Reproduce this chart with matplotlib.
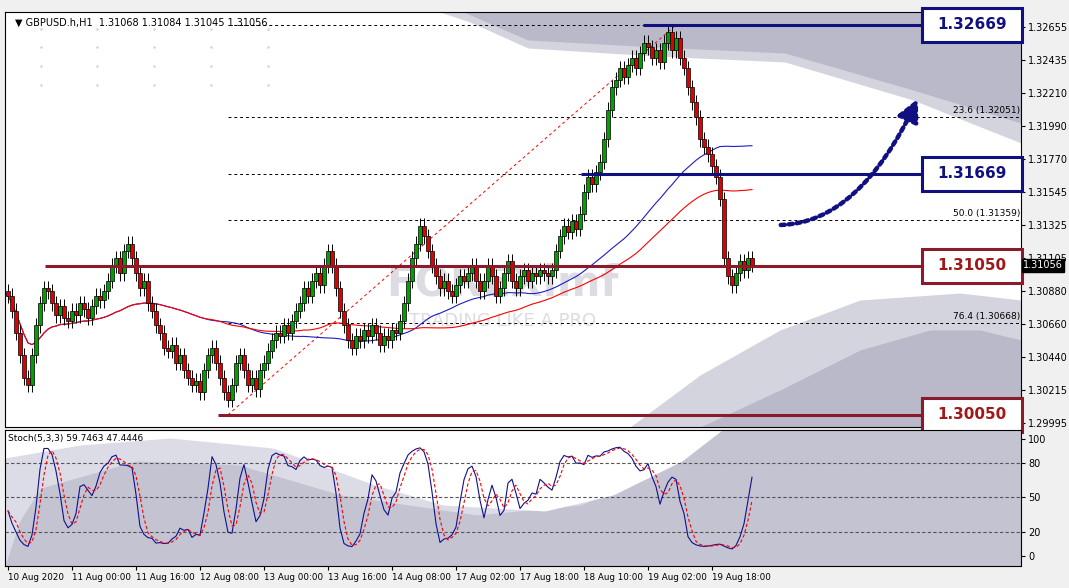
import numpy as np
import pandas as pd
import matplotlib
matplotlib.use("Agg")
import matplotlib.pyplot as plt
from matplotlib.patches import Rectangle

# hourly closes, GBPUSD H1
closes = [
    1.3085, 1.3075, 1.3060, 1.3045, 1.3030, 1.3025, 1.3045, 1.3065, 1.3080, 1.3090,
    1.3088, 1.3080, 1.3072, 1.3078, 1.3070, 1.3068, 1.3075, 1.3072, 1.3080, 1.3076, 1.3070, 1.3078, 1.3085, 1.3082,
    1.3088, 1.3095, 1.3105, 1.3110, 1.3100, 1.3115, 1.3120,
    1.3110, 1.3100, 1.3090, 1.3095, 1.3080, 1.3075, 1.3065, 1.3060, 1.3050, 1.3048,
    1.3052, 1.3040, 1.3045, 1.3035, 1.3030, 1.3025, 1.3028, 1.3020,
    1.3035, 1.3045, 1.3050, 1.3040, 1.3030, 1.3020, 1.3015, 1.3025,
    1.3040, 1.3045, 1.3035, 1.3025, 1.3030, 1.3022, 1.3035, 1.3040, 1.3048, 1.3055,
    1.3060, 1.3058, 1.3065, 1.3060, 1.3068, 1.3075, 1.3080, 1.3090, 1.3085, 1.3095, 1.3100, 1.3092, 1.3105, 1.3115, 1.3105,
    1.3090, 1.3075, 1.3065, 1.3055, 1.3050, 1.3058, 1.3055,
    1.3062, 1.3058, 1.3065, 1.3060, 1.3052, 1.3058, 1.3055, 1.3062, 1.3060, 1.3068, 1.3080,
    1.3095, 1.3110, 1.3120, 1.3132, 1.3125,
    1.3115, 1.3105, 1.3098, 1.3090, 1.3095, 1.3088, 1.3085, 1.3092, 1.3098, 1.3095,
    1.3100, 1.3105, 1.3095, 1.3088, 1.3095, 1.3105, 1.3098, 1.3085, 1.3090, 1.3100, 1.3108,
    1.3095, 1.3090, 1.3098, 1.3102, 1.3095, 1.3100, 1.3098, 1.3102, 1.3100, 1.3098, 1.3102,
    1.3115, 1.3125, 1.3132, 1.3128, 1.3135, 1.3130, 1.3140, 1.3155, 1.3165,
    1.3160, 1.3168, 1.3175, 1.3190, 1.3210,
    1.3225, 1.3230, 1.3238, 1.3232, 1.3240, 1.3245, 1.3238, 1.3248, 1.3255, 1.3252,
    1.3245, 1.3250, 1.3242, 1.3255, 1.3262, 1.3250, 1.3258, 1.3245, 1.3238, 1.3225, 1.3215,
    1.3205, 1.3190, 1.3185, 1.3180, 1.3172, 1.3165, 1.3150,
    1.3110, 1.3098, 1.3092, 1.3100, 1.3108, 1.3102, 1.3110, 1.31056,
]
first_open = 1.3088
wick = 0.0005

levels_blue = [1.32669, 1.31669]
levels_red = [1.31050, 1.30050]
fib_levels = [1.32669, 1.32051, 1.31669, 1.31359, 1.31050, 1.30668, 1.30050]
fib_labels = {1.32051: "23.6 (1.32051)", 1.31359: "50.0 (1.31359)", 1.30668: "76.4 (1.30668)"}
price_ticks = [1.32655, 1.32435, 1.32210, 1.31990, 1.31770, 1.31545, 1.31325,
               1.31105, 1.30880, 1.30660, 1.30440, 1.30215, 1.29995]
date_labels = ["10 Aug 2020", "11 Aug 00:00", "11 Aug 16:00", "12 Aug 08:00", "13 Aug 00:00",
               "13 Aug 16:00", "14 Aug 08:00", "17 Aug 02:00", "17 Aug 18:00", "18 Aug 10:00",
               "19 Aug 02:00", "19 Aug 18:00"]

c = pd.Series(closes)
o = c.shift(1).fillna(first_open)
h = np.maximum(o, c) + wick
l = np.minimum(o, c) - wick
n = len(c)
idx = np.arange(n)

ma_blue = c.rolling(50, min_periods=1).mean()
ma_red = c.rolling(75, min_periods=1).mean()
hh = h.rolling(5, min_periods=1).max()
ll = l.rolling(5, min_periods=1).min()
k = 100 * (c - ll).rolling(3, min_periods=1).sum() / (hh - ll).rolling(3, min_periods=1).sum()
d = k.rolling(3, min_periods=1).mean()

W, H = 1069, 588
fig = plt.figure(figsize=(W / 100, H / 100), dpi=100)
fig.patch.set_facecolor("#f0f0f0")

MT, MB, ST, SB = 12, 427, 430, 566

def rect(l_, t, r, b):
    return [l_ / W, 1 - b / H, (r - l_) / W, (b - t) / H]

ax = fig.add_axes(rect(5, MT, 1021, MB))
ax2 = fig.add_axes(rect(5, ST, 1021, SB))
ax.set_facecolor("white")

ax.set_xlim(-0.75, 253.25)
ax.set_ylim(1.29968, 1.32756)
ax2.set_xlim(-0.75, 253.25)
ax2.set_ylim(-9, 108)

def px(x):
    return (x - 5) / 4

def fx(x):
    return (x - 5) / 1016

def fy(y, top, bot):
    return (bot - y) / (bot - top)

def shape(a, pts, top, bot, below=False, color="#b9b9c9"):
    xs = np.array([fx(p[0]) for p in pts])
    ys = np.array([fy(p[1], top, bot) for p in pts])
    xx = np.linspace(xs[0], xs[-1], 200)
    yy = np.interp(xx, xs, ys)
    if below:
        a.fill_between(xx, 0, yy, color=color, transform=a.transAxes, zorder=0, lw=0)
    else:
        a.fill_between(xx, yy, 1, color=color, transform=a.transAxes, zorder=0, lw=0)

# main panel watermark shapes
shape(ax, [(440, 12), (470, 22), (528, 48), (656, 56), (785, 62), (913, 100), (1021, 143)], MT, MB,
      color="#d4d4de")
shape(ax, [(464, 12), (500, 28), (528, 40), (656, 47), (785, 53), (913, 90), (1021, 123)], MT, MB)
shape(ax, [(630, 427), (700, 375), (780, 330), (860, 300), (960, 293), (1021, 300)], MT, MB,
      below=True, color="#d4d4de")
shape(ax, [(700, 427), (780, 390), (860, 350), (930, 330), (980, 330), (1021, 340)], MT, MB,
      below=True)
for gx in np.arange(0.035, 0.30, 0.056):
    for gy in np.arange(0.96, 0.80, -0.045):
        ax.plot(gx, gy, ".", color="#d0d0d0", ms=1.5, transform=ax.transAxes, zorder=0)

# stoch panel shapes
ax2.set_facecolor("#c3c3d1")
shape(ax2, [(5, 566), (20, 520), (41, 488), (136, 461), (239, 465), (341, 495), (477, 515),
            (580, 505), (648, 478), (716, 430)], ST, SB, color="#dcdce6")
shape(ax2, [(5, 458), (80, 445), (170, 438), (273, 448), (375, 485), (443, 505), (545, 511),
            (613, 495), (682, 461), (722, 430)], ST, SB, color="white")

# watermark
ax.text(0.49, 0.345, "FOREXimf", transform=ax.transAxes, fontsize=30, fontweight="bold",
        color="#dcdce2", ha="center", va="center", zorder=1)
ax.text(0.49, 0.255, "TRADING LIKE A PRO", transform=ax.transAxes, fontsize=13,
        color="#dcdce2", ha="center", va="center", zorder=1)

# fib dashed lines
for lv in fib_levels:
    ax.hlines(lv, px(225), 253.25, colors="black", linestyles=(0, (3, 3)), lw=0.7, zorder=2)
for lv, txt in fib_labels.items():
    ax.text(px(1017), lv + 0.0001, txt, fontsize=6.5, ha="right", va="bottom", zorder=3)
ax.plot([px(225), px(673)], [1.30050, 1.32669], color="red", ls=(0, (3, 3)), lw=0.7, zorder=2)

# moving averages
ax.plot(idx, ma_blue, color="#1c1cc8", lw=0.8, zorder=3)
ax.plot(idx, ma_red, color="red", lw=0.8, zorder=3)

# candles
for i in range(n):
    ax.vlines(i, l[i], h[i], color="black", lw=0.7, zorder=4)
    bull = c[i] >= o[i]
    lo, hi = min(o[i], c[i]), max(o[i], c[i])
    ax.add_patch(Rectangle((i - 0.4, lo), 0.8, max(hi - lo, 0.00004),
                           facecolor="#00a000" if bull else "#e00000", edgecolor="black",
                           lw=0.5, zorder=5))

# support / resistance lines and boxes
starts = {1.32669: 640, 1.31669: 578, 1.31050: 42, 1.30050: 215}
box_h = 34 / 14887
for lv in levels_blue + levels_red:
    col = "#101080" if lv in levels_blue else "#8b1a2b"
    tcol = "#101080" if lv in levels_blue else "#a01818"
    ax.hlines(lv, px(starts[lv]), px(918), colors=col, lw=2.2, zorder=6)
    ax.add_patch(Rectangle((px(919), lv - box_h / 2), px(1019) - px(919), box_h,
                           facecolor="white", edgecolor=col, lw=2.2, zorder=7, clip_on=False))
    ax.text(px(969), lv, f"{lv:.5f}", fontsize=11, fontweight="bold", color=tcol,
            ha="center", va="center", zorder=8)
ax.annotate("", xy=(px(916), 1.3219), xytext=(px(775), 1.31325),
            arrowprops=dict(arrowstyle="-|>,head_length=1.3,head_width=0.65", color="#101080",
                            lw=3.2, ls=(0, (0.9, 0.9)),
                            connectionstyle="angle3,angleA=0,angleB=65"), zorder=7)

ax.text(0.01, 0.985, "\u25bc GBPUSD.h,H1  1.31068 1.31084 1.31045 1.31056", transform=ax.transAxes,
        fontsize=7, va="top", ha="left", zorder=8)

ax.yaxis.tick_right()
ax.set_yticks(price_ticks)
ax.set_yticklabels([f"{t:.5f}" for t in price_ticks], fontsize=7)
ax.set_xticks([])
ax.tick_params(axis="y", length=3, pad=2)
ax.text(1.002, 1.31056, "1.31056", transform=ax.get_yaxis_transform(), fontsize=7,
        color="white", va="center", ha="left", zorder=9,
        bbox=dict(boxstyle="square,pad=0.15", fc="black", ec="black"), clip_on=False)

# stochastic
for lv in [20, 50, 80]:
    ax2.axhline(lv, color="#555555", ls=(0, (3, 2)), lw=0.8, zorder=1)
ax2.plot(idx, k, color="#101090", lw=0.8, zorder=3)
ax2.plot(idx, d, color="red", lw=0.8, ls=(0, (3, 2)), zorder=3)
ax2.text(0.003, 0.97, "Stoch(5,3,3) 59.7463 47.4446", transform=ax2.transAxes, fontsize=6.5,
         va="top", ha="left")
ax2.yaxis.tick_right()
ax2.set_yticks([0, 20, 50, 80, 100])
ax2.set_yticklabels(["0", "20", "50", "80", "100"], fontsize=7)
ax2.tick_params(axis="y", length=3, pad=2)
ax2.set_xticks(np.arange(len(date_labels)) * 16)
ax2.set_xticklabels(date_labels, fontsize=6.3, ha="left")
ax2.tick_params(axis="x", length=3, pad=2)

for a in (ax, ax2):
    for s in a.spines.values():
        s.set_linewidth(0.8)

fig.savefig("out.png", dpi=100, facecolor=fig.get_facecolor())
